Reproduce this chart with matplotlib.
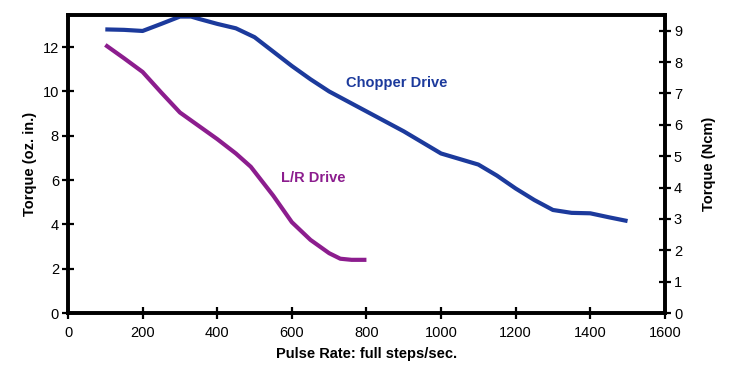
import matplotlib
matplotlib.use("Agg")
import matplotlib.pyplot as plt

plt.rcParams['font.family'] = ['Liberation Sans', 'DejaVu Sans']

chopper_x = [100, 150, 200, 250, 300, 330, 350, 400, 450, 500, 550, 600, 650, 700, 750,
             800, 850, 900, 950, 1000, 1050, 1100, 1150, 1200, 1250, 1300, 1350, 1400, 1450, 1500]
chopper_y = [12.8, 12.78, 12.73, 13.05, 13.38, 13.38, 13.28, 13.05, 12.85, 12.45, 11.8, 11.15,
             10.55, 10.0, 9.55, 9.1, 8.65, 8.2, 7.7, 7.2, 6.95, 6.7, 6.2, 5.62, 5.1, 4.65,
             4.52, 4.5, 4.32, 4.15]
lr_x = [100, 150, 200, 250, 300, 350, 400, 450, 490, 550, 600, 650, 700, 730, 760, 800]
lr_y = [12.1, 11.5, 10.88, 9.95, 9.05, 8.45, 7.85, 7.2, 6.6, 5.3, 4.1, 3.3, 2.7, 2.45, 2.4, 2.4]

x_ticks = [0, 200, 400, 600, 800, 1000, 1200, 1400, 1600]
y_ticks = [0, 2, 4, 6, 8, 10, 12]
y2_ticks = [0, 1, 2, 3, 4, 5, 6, 7, 8, 9]
OZIN_TO_NCM = 0.7062

blue = '#1c3a9c'
purple = '#8c1d8e'

fig = plt.figure(figsize=(7.29, 3.66), dpi=100)
ax = fig.add_axes([0.0933, 0.1448, 0.8187, 0.8142])
ax.plot(chopper_x, chopper_y, color=blue, lw=3.0, solid_capstyle='butt', solid_joinstyle='round')
ax.plot(lr_x, lr_y, color=purple, lw=3.0, solid_capstyle='butt', solid_joinstyle='round')

ax.set_xlim(0, 1600)
ax.set_ylim(0, 13.45)
ax.set_xticks(x_ticks)
ax.set_yticks(y_ticks)
for s in ax.spines.values():
    s.set_linewidth(2.6)
ax.tick_params(direction='inout', length=9, width=1.6, labelsize=10.5, pad=2)
ax.tick_params(axis='x', pad=5)
ax.set_xlabel('Pulse Rate: full steps/sec.', fontweight='bold', fontsize=10.5, labelpad=5)
ax.set_ylabel('Torque (oz. in.)', fontweight='bold', fontsize=10.5, labelpad=4)

ax2 = ax.twinx()
ax2.set_ylim(0, 13.45 * OZIN_TO_NCM)
ax2.set_yticks(y2_ticks)
ax2.tick_params(direction='inout', length=9, width=1.6, labelsize=10.5, pad=2)
for s in ax2.spines.values():
    s.set_linewidth(2.6)
ax2.set_ylabel('Torque (Ncm)', fontweight='bold', fontsize=10.5, labelpad=14)

ax.text(882, 10.37, 'Chopper Drive', color=blue, fontweight='bold', fontsize=10.5,
        ha='center', va='center')
ax.text(657, 6.09, 'L/R Drive', color=purple, fontweight='bold', fontsize=10.5,
        ha='center', va='center')

fig.savefig('out.png', dpi=100)
